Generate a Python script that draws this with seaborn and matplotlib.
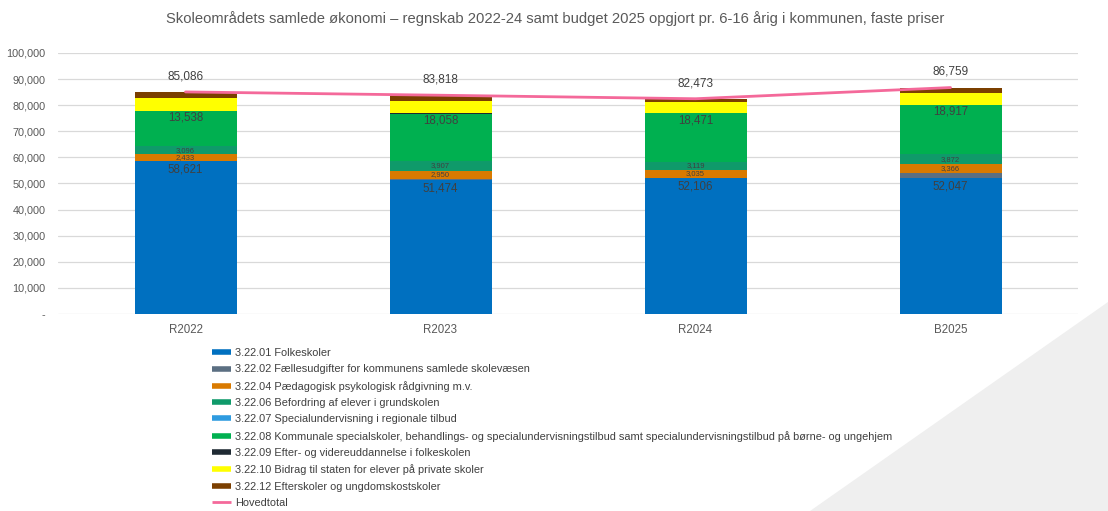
import matplotlib
matplotlib.use("Agg")
import matplotlib.pyplot as plt
from matplotlib.lines import Line2D
from matplotlib.patches import Polygon
import seaborn as sns
import numpy as np
import pandas as pd

# data
years = ["R2022", "R2023", "R2024", "B2025"]
series_names = [
    "3.22.01 Folkeskoler",
    "3.22.02 Fællesudgifter for kommunens samlede skolevæsen",
    "3.22.04 Pædagogisk psykologisk rådgivning m.v.",
    "3.22.06 Befordring af elever i grundskolen",
    "3.22.07 Specialundervisning i regionale tilbud",
    "3.22.08 Kommunale specialskoler, behandlings- og specialundervisningstilbud samt specialundervisningstilbud på børne- og ungehjem",
    "3.22.09 Efter- og videreuddannelse i folkeskolen",
    "3.22.10 Bidrag til staten for elever på private skoler",
    "3.22.12 Efterskoler og ungdomskostskoler",
]
folkeskoler = [58621, 51474, 52106, 52047]
faellesudgifter = [150, 400, 150, 1950]
ppr = [2433, 2950, 3035, 3366]
befordring = [3096, 3907, 3119, 3872]
regionale = [0, 0, 0, 0]
specialskoler = [13538, 18058, 18471, 18917]
efteruddannelse = [50, 50, 50, 50]
private_skoler = [4800, 4800, 4300, 4300]
efterskoler = [2398, 2179, 1242, 2257]
hovedtotal = [85086, 83818, 82473, 86759]

colors = ["#0070C0", "#5B6F82", "#D97A00", "#0F9A6A", "#2E9BE0",
          "#00B050", "#1F2A33", "#FFFF00", "#7B3F00"]
line_color = "#F4699A"
text_color = "#595959"

# which segments carry a value label (and how big)
label_size = {0: 8.3, 2: 5.5, 3: 5.5, 5: 8.3}

sns.set_style("white")
plt.rcParams["font.family"] = ["Liberation Sans", "DejaVu Sans"]

fig = plt.figure(figsize=(11.08, 5.11), dpi=100)
ax = fig.add_axes([58 / 1108, 1 - 314 / 511, 1020 / 1108, 261 / 511])

# decorative grey triangle in the lower right corner
fig.patches.append(Polygon([(810 / 1108, 0), (1.0, 0), (1.0, 1 - 302 / 511)],
                           closed=True, transform=fig.transFigure,
                           facecolor="#EFEFEF", edgecolor="none", zorder=0))

df = pd.DataFrame({
    "year": years,
    "s0": folkeskoler, "s1": faellesudgifter, "s2": ppr, "s3": befordring,
    "s4": regionale, "s5": specialskoler, "s6": efteruddannelse,
    "s7": private_skoler, "s8": efterskoler, "total": hovedtotal,
})

x = np.arange(len(years))
bottom = np.zeros(len(years))
for i in range(len(series_names)):
    vals = df[f"s{i}"].to_numpy(dtype=float)
    ax.bar(x, vals, width=0.40, bottom=bottom, color=colors[i],
           edgecolor="none", zorder=2)
    if i in label_size:
        for xi, b, v in zip(x, bottom, vals):
            if i == 0:
                y = b + v - 3300
            elif i == 5:
                y = b + v - 2700
            else:
                y = b + v / 2
            ax.text(xi, y, f"{int(v):,}", ha="center", va="center",
                    fontsize=label_size[i], color="#404040", zorder=4)
    bottom += vals

sns.lineplot(x=x, y=df["total"], ax=ax, color=line_color, linewidth=2,
             zorder=3, legend=False)
for xi, t in zip(x, hovedtotal):
    ax.text(xi, t + 6000, f"{t:,}", ha="center", va="center",
            fontsize=8.5, color="#404040")

ax.set_xlim(-0.5, 3.5)
ax.set_ylim(0, 100000)
ax.set_yticks(np.arange(0, 100001, 10000))
ax.set_yticklabels(["-"] + [f"{v:,}" for v in range(10000, 100001, 10000)])
ax.set_xticks(x)
ax.set_xticklabels(years)
ax.tick_params(axis="y", labelsize=7.8, colors=text_color, length=0, pad=9)
ax.tick_params(axis="x", labelsize=8.3, colors=text_color, length=0, pad=7)
ax.yaxis.grid(True, color="#D9D9D9", linewidth=0.9, zorder=0)
ax.set_axisbelow(True)
ax.set_xlabel("")
ax.set_ylabel("")
for s in ax.spines.values():
    s.set_visible(False)
ax.set_facecolor("none")

fig.text(555 / 1108, 1 - 19 / 511,
         "Skoleområdets samlede økonomi – regnskab 2022-24 samt budget 2025 opgjort pr. 6-16 årig i kommunen, faste priser",
         ha="center", va="center", fontsize=10.6, color=text_color)

handles = [Line2D([0], [0], color=c, linewidth=4, solid_capstyle="butt")
           for c in colors]
handles.append(Line2D([0], [0], color=line_color, linewidth=2,
                      solid_capstyle="butt"))
labels = series_names + ["Hovedtotal"]
fig.legend(handles, labels, loc="upper left",
           bbox_to_anchor=(212 / 1108, 1 - 348 / 511), frameon=False,
           fontsize=7.9, labelspacing=0.58, handlelength=1.7,
           handletextpad=0.4, borderaxespad=0, borderpad=0,
           labelcolor="#404040")

fig.savefig("out.png", dpi=100)
